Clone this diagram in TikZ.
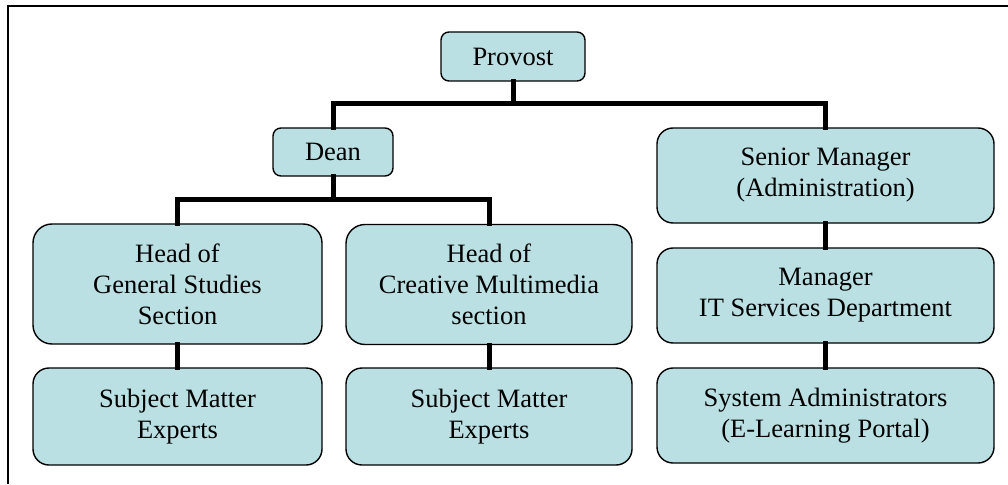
\documentclass[tikz,border=0pt]{standalone}
\usepackage{fontspec}
\setmainfont{Liberation Serif}
\begin{document}
\begin{tikzpicture}[x=1pt,y=-1pt,
  box/.style={draw=black, line width=1.4pt, fill=boxfill, rounded corners=#1,
    inner sep=0pt, align=center, font=\fontsize{26.5}{31}\selectfont},
  box/.default=9pt,
  link/.style={line width=5pt, line cap=rect}]
\definecolor{boxfill}{RGB}{187,224,227}
\useasboundingbox (0,0) rectangle (1008,484);
% frame (top and left edges)
\draw[line width=1.4pt] (8,484) -- (8,6) -- (1008,6);

% boxes
\node[box=8pt, minimum width=144pt, minimum height=49pt] (prov) at (513,56.5) {Provost};
\node[box=8pt, minimum width=120pt, minimum height=48pt] (dean) at (333,152) {Dean};
\node[box=16pt, minimum width=337pt, minimum height=95pt] (senior) at (825.5,175.5) {Senior Manager\\(Administration)};
\node[box=19pt, minimum width=289pt, minimum height=120pt] (headgs) at (177.5,284) {Head of\\General Studies\\Section};
\node[box=19pt, minimum width=286pt, minimum height=120pt] (headcm) at (489,284.5) {Head of\\Creative Multimedia\\section};
\node[box=16pt, minimum width=289pt, minimum height=97pt] (sme1) at (177.5,416.5) {Subject Matter\\Experts};
\node[box=16pt, minimum width=286pt, minimum height=97pt] (sme2) at (489,416.5) {Subject Matter\\Experts};
\node[box=16pt, minimum width=337pt, minimum height=95pt] (mgr) at (825.5,295.5) {Manager\\IT Services Department};
\node[box=16pt, minimum width=337pt, minimum height=95pt] (sysad) at (825.5,415.5) {System Administrators\\(E-Learning Portal)};

% connectors
\coordinate (top) at (513,104);
\coordinate (mid) at (333,199);
\begin{scope}[on background layer/.try]
\draw[link] (prov.south) -- (top);
\draw[link] (dean.north) |- (top) -| (senior.north);
\draw[link] (dean.south) -- (mid);
\draw[link] (headgs.north) |- (mid) -| (headcm.north);
\draw[link] (headgs.south) -- (sme1.north);
\draw[link] (headcm.south) -- (sme2.north);
\draw[link] (senior.south) -- (mgr.north);
\draw[link] (mgr.south) -- (sysad.north);
\end{scope}
\end{tikzpicture}
\end{document}
